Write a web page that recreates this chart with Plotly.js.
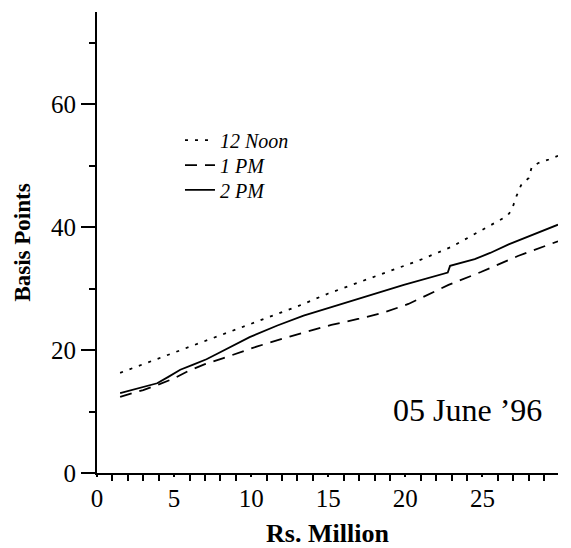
<!DOCTYPE html>
<html>
<head>
<meta charset="utf-8">
<script src="https://cdn.plot.ly/plotly-3.0.1.min.js"></script>
<style>html,body{margin:0;padding:0;background:#fff}#chart{width:571px;height:548px}</style>
</head>
<body>
<div id="chart"></div>
<script>
// Series names
const seriesNames = ["12 Noon", "1 PM", "2 PM"];

// 12 Noon (dotted)
const noonX = [1.5, 3, 5, 7, 9, 11, 13, 15, 17, 19, 21, 23, 24, 25, 26, 26.6, 26.9, 27.2, 27.5, 28.0, 28.2, 28.6, 29.3, 29.9];
const noonY = [16.3, 17.7, 19.6, 21.4, 23.3, 25.2, 27.1, 29.2, 31.0, 32.8, 34.7, 36.8, 38.2, 39.6, 41.0, 41.8, 42.8, 45.0, 46.8, 48.0, 49.8, 50.4, 51.0, 51.6];

// 1 PM (dashed)
const pm1X = [1.5, 3, 4.1, 5, 6, 7, 8.2, 9, 10.4, 12.5, 15.2, 17, 18.6, 20.2, 21.2, 22.8, 24.9, 27.3, 29.9];
const pm1Y = [12.4, 13.5, 14.5, 15.4, 16.7, 17.7, 18.7, 19.4, 20.6, 22.2, 24.1, 25.1, 26.1, 27.5, 28.7, 30.6, 32.7, 35.3, 37.7];

// 2 PM (solid)
const pm2X = [1.5, 3, 3.9, 4.6, 5.4, 6.2, 7.1, 7.8, 8.9, 9.9, 11.7, 13.4, 15.2, 17, 19.9, 22.75, 22.9, 24.5, 25.5, 26.7, 28.2, 29.9];
const pm2Y = [13.0, 14.0, 14.6, 15.6, 16.8, 17.6, 18.5, 19.4, 20.8, 22.1, 24.0, 25.6, 27.0, 28.4, 30.6, 32.6, 33.7, 34.8, 35.8, 37.2, 38.7, 40.4];

const xTitle = "Rs. Million";
const yTitle = "Basis Points";
const dateLabel = "05 June \u201996";

const serif = "Liberation Serif";

const traces = [
  {x: noonX, y: noonY, name: seriesNames[0], legend: "legend", mode: "lines", line: {color: "black", width: 1.8, dash: "3px,7px"}},
  {x: pm1X, y: pm1Y, name: seriesNames[1], legend: "legend2", mode: "lines", line: {color: "black", width: 1.8, dash: "12px,8px"}},
  {x: pm2X, y: pm2Y, name: seriesNames[2], legend: "legend3", mode: "lines", line: {color: "black", width: 1.8}}
];

function legendAt(y) {
  return {
    x: 0.18, y: y, xanchor: "left", yanchor: "middle",
    bgcolor: "rgba(0,0,0,0)", borderwidth: 0,
    font: {family: serif, size: 20, style: "italic", color: "black"}
  };
}

const layout = {
  width: 571, height: 548,
  margin: {l: 97, r: 13, t: 12, b: 75},
  paper_bgcolor: "white", plot_bgcolor: "white",
  font: {family: serif, color: "#000000", size: 25},
  showlegend: true,
  legend: legendAt(0.722),
  legend2: legendAt(0.668),
  legend3: legendAt(0.614),
  xaxis: {
    range: [0, 29.9], showgrid: false, zeroline: false,
    showline: true, linecolor: "black", linewidth: 1.8,
    ticks: "outside", ticklen: 2, tickwidth: 1.8, tickcolor: "black",
    dtick: 5,
    minor: {dtick: 1, ticks: "outside", ticklen: 6, tickwidth: 1.8, tickcolor: "black"},
    tickfont: {family: serif, size: 25, color: "#000000"},
    title: {text: "<b>" + xTitle + "</b>", font: {family: serif, size: 26, color: "black"}, standoff: 17}
  },
  xaxis2: {
    overlaying: "x", matches: "x", anchor: "y", side: "bottom",
    range: [0, 29.9], showgrid: false, zeroline: false, showline: false,
    showticklabels: false,
    ticks: "outside", ticklen: 13, tickwidth: 1.8, tickcolor: "black",
    dtick: 5
  },
  yaxis: {
    range: [0, 75], showgrid: false, zeroline: false,
    showline: true, linecolor: "black", linewidth: 1.8,
    ticks: "outside", ticklen: 14, tickwidth: 1.8, tickcolor: "black",
    dtick: 20,
    minor: {dtick: 10, ticks: "outside", ticklen: 6, tickwidth: 1.8, tickcolor: "black"},
    tickfont: {family: serif, size: 25, color: "#000000"},
    title: {text: "<b>" + yTitle + "</b>", font: {family: serif, size: 23, color: "black"}, standoff: 14}
  },
  annotations: [{
    text: dateLabel, xref: "paper", yref: "paper",
    x: 0.803, y: 0.137, xanchor: "center", yanchor: "middle",
    showarrow: false, font: {family: serif, size: 32, color: "black"}
  }]
};

Plotly.newPlot("chart", traces, layout, {displayModeBar: false});
</script>
</body>
</html>
